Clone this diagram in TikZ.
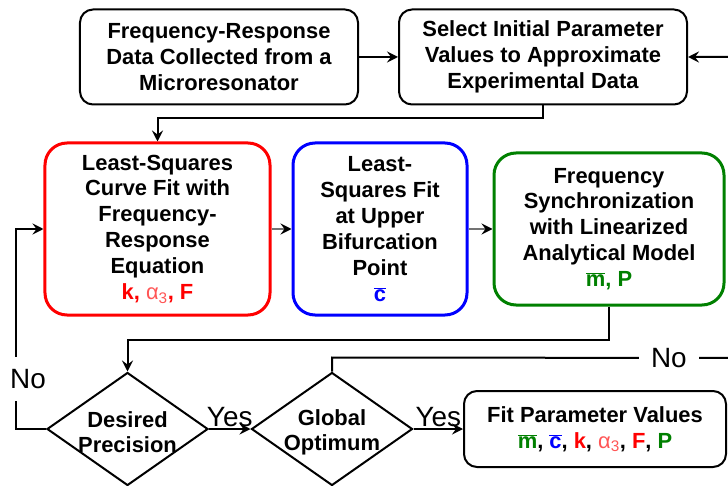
\documentclass[tikz,border=0pt]{standalone}
\usepackage{fontspec}
\setmainfont{Liberation Sans}
\usepackage{tikz}
\usetikzlibrary{positioning, shapes.geometric, arrows.meta, calc}

\definecolor{fitred}{RGB}{255,0,0}
\definecolor{fitblue}{RGB}{0,0,255}
\definecolor{fitgreen}{RGB}{0,128,0}
\definecolor{alphared}{RGB}{255,85,85}
\newcommand{\obar}[1]{$\overline{\mbox{#1}}$}
\newcommand{\alphathree}{{\color{alphared}\mdseries α\textsubscript{3}}}

\begin{document}
\begin{tikzpicture}[
  x=1bp, y=-1bp,
  every node/.style={font=\fontsize{22}{26}\selectfont\bfseries, align=center},
  plainbox/.style={draw, line width=2bp, rounded corners=13bp,
                   minimum width=#1, minimum height=95bp},
  fitbox/.style={draw=#1, line width=3bp, rounded corners=22bp, minimum height=172bp},
  decision/.style={diamond, draw, line width=2bp, minimum width=161bp,
                   minimum height=113bp, inner sep=0pt},
  dlabel/.style={font=\fontsize{22}{25}\selectfont\bfseries, yshift=-3bp},
  answer/.style={font=\fontsize{28}{32}\selectfont},
  gap/.style={fill=white, inner sep=12bp},
  link/.style={line width=2bp, -{Stealth[length=11bp, width=11bp, inset=4bp]}},
  graylink/.style={line width=2bp, draw=black!55,
                   -{Stealth[length=11bp, width=11bp, inset=4bp, black]}},
]
\useasboundingbox (0,0) rectangle (728,486);
\clip (0,0) rectangle (728,486);

% top row
\node[plainbox=278bp] (data) at (219,57) {Frequency-Response\\Data Collected from a\\Microresonator};
\node[plainbox=288bp] (init) at (543,57) {Select Initial Parameter\\Values to Approximate\\Experimental Data};

% fitting stages
\node[fitbox=fitred, minimum width=225bp] (curve) at (157.5,229)
  {Least-Squares\\Curve Fit with\\Frequency-\\Response\\Equation\\{\color{fitred}k, \alphathree, F}};
\node[fitbox=fitblue, minimum width=174bp] (bifur) at (380,229)
  {Least-\\Squares Fit\\at Upper\\Bifurcation\\Point\\{\color{fitblue}\obar{c}}};
\node[fitbox=fitgreen, minimum width=230bp, minimum height=152bp] (sync) at (609,229)
  {Frequency\\Synchronization\\with Linearized\\Analytical Model\\{\color{fitgreen}\obar{m}, P}};

% decisions
\node[decision] (prec) at (127.5,429) {};
\node[dlabel] (prectext) at (prec) {Desired\\Precision};
\node[decision] (glob) at (332,429) {};
\node[dlabel] (globtext) at (glob) {Global\\Optimum};

\node[plainbox=262bp, minimum height=76bp] (result) at (595,429)
  {Fit Parameter Values\\{\color{fitgreen}\obar{m}}, {\color{fitblue}\obar{c}}, {\color{fitred}k}, \alphathree, {\color{fitred}F}, {\color{fitgreen}P}};

\coordinate (rloop) at (760,358);

% connectors
\draw[link] (data) -- (init);
\draw[link] (init.south) -- ++(0,13) -| (curve.north);
\draw[graylink] (curve) -- (bifur);
\draw[graylink] (bifur) -- (sync);
\draw[link] (sync.south) -- ++(0,33) -| (prec.north);
\draw[link] (prec.west) -- ++(-30,0) |- node[pos=0.125, gap, answer, xshift=12bp] (no1) {No} (curve.west);
\draw[link] (prec.east) -- node[above, answer, inner sep=1bp] (yes1) {Yes} (glob.west);
\draw[link] (glob.east) -- node[above, answer, inner sep=1bp] (yes2) {Yes} (result.west);
\draw[link] (glob.north) -- ++(0,-14) -- node[pos=0.787, gap, answer] (no2) {No} (rloop) |- (init.east);
\end{tikzpicture}
\end{document}
